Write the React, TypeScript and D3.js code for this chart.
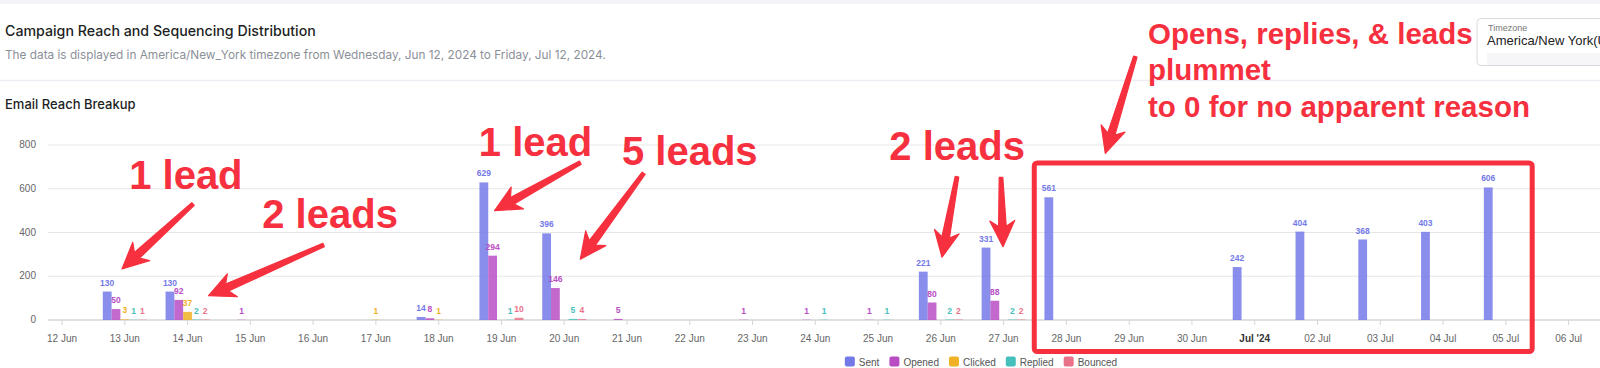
import React from 'react';
import * as d3 from 'd3';

// days with activity (UTC)
const dates = [
	'2024-06-13', '2024-06-14', '2024-06-15', '2024-06-16', '2024-06-17', '2024-06-18',
	'2024-06-19', '2024-06-20', '2024-06-21', '2024-06-22', '2024-06-23', '2024-06-24',
	'2024-06-25', '2024-06-26', '2024-06-27', '2024-06-28', '2024-06-29', '2024-06-30',
	'2024-07-01', '2024-07-02', '2024-07-03', '2024-07-04', '2024-07-05',
];
const sent = [130, 130, 0, 0, 0, 14, 629, 396, 0, 0, 0, 0, 0, 221, 331, 561, 0, 0, 242, 404, 368, 403, 606];
const opened = [50, 92, 1, 0, 0, 8, 294, 146, 5, 0, 1, 1, 1, 80, 88, 0, 0, 0, 0, 0, 0, 0, 0];
const clicked = [3, 37, 0, 0, 1, 1, 0, 0, 0, 0, 0, 0, 0, 0, 0, 0, 0, 0, 0, 0, 0, 0, 0];
const replied = [1, 2, 0, 0, 0, 0, 1, 5, 0, 0, 0, 1, 1, 2, 2, 0, 0, 0, 0, 0, 0, 0, 0];
const bounced = [1, 2, 0, 0, 0, 0, 10, 4, 0, 0, 0, 0, 0, 2, 2, 0, 0, 0, 0, 0, 0, 0, 0];

const seriesNames = ['Sent', 'Opened', 'Clicked', 'Replied', 'Bounced'];
const seriesColors = ['#7479e8', '#b94ec4', '#efb125', '#45c0bc', '#e9718a'];
const yTicks = [0, 200, 400, 600, 800];

// annotations in chart space: day offset from 12 Jun, value on the y axis
const notes = [
	{ text: '1 lead', day: 1.07, v: 599, size: 40 },
	{ text: '2 leads', day: 3.19, v: 419, size: 40 },
	{ text: '1 lead', day: 6.64, v: 751, size: 40 },
	{ text: '5 leads', day: 8.92, v: 709, size: 40 },
	{ text: '2 leads', day: 13.18, v: 731, size: 40 },
	{ text: 'Opens, replies, & leads', day: 17.3, v: 1264, size: 29.5 },
	{ text: 'plummet', day: 17.3, v: 1095, size: 29.5 },
	{ text: 'to 0 for no apparent reason', day: 17.3, v: 926, size: 29.5 },
];
const arrows = [
	{ from: [2.087, 530], to: [0.956, 233] },
	{ from: [4.167, 343], to: [2.335, 111] },
	{ from: [8.257, 719], to: [6.891, 500] },
	{ from: [9.265, 671], to: [8.257, 278] },
	{ from: [14.257, 655], to: [14.018, 287] },
	{ from: [14.958, 652], to: [14.99, 335] },
	{ from: [17.098, 1204], to: [16.62, 762] },
];
const box = { day0: 15.488, day1: 23.42, v0: 718, v1: -144 };

const RED = '#f6303e';
const chartFont = '"Liberation Sans", Arial, sans-serif';
const uiFont = 'Inter, "Noto Sans", sans-serif';

function arrowPath(t: number[], p: number[]) {
	const dx = p[0] - t[0];
	const dy = p[1] - t[1];
	const len = Math.hypot(dx, dy);
	const ux = dx / len, uy = dy / len, nx = -uy, ny = ux;
	const H = 26, W = 12.5, w0 = 1.8, w1 = 3.8;
	const bx = p[0] - ux * H, by = p[1] - uy * H;
	const sx = p[0] - ux * H * 0.78, sy = p[1] - uy * H * 0.78;
	const pts: [number, number][] = [
		[t[0] + nx * w0, t[1] + ny * w0],
		[sx + nx * w1, sy + ny * w1],
		[bx + nx * W, by + ny * W],
		[p[0], p[1]],
		[bx - nx * W, by - ny * W],
		[sx - nx * w1, sy - ny * w1],
		[t[0] - nx * w0, t[1] - ny * w0],
	];
	return d3.line()(pts) + 'Z';
}

function measure(text: string, font: string) {
	const ctx = document.createElement('canvas').getContext('2d');
	if (!ctx) return text.length * 6;
	ctx.font = font;
	return ctx.measureText(text).width;
}

export default function App() {
	const width = 1600;
	const height = 368;
	const plotLeft = 48;

	const start = new Date(Date.UTC(2024, 5, 12));
	const end = new Date(Date.UTC(2024, 6, 12));
	const x = d3.scaleUtc().domain([start, end]).range([62, 62 + 30 * 62.775]);
	const y = d3.scaleLinear().domain([0, 800]).range([320, 145]);
	const dayW = x(d3.utcDay.offset(start, 1)) - x(start);
	const inner = d3
		.scaleBand()
		.domain(seriesNames)
		.range([-0.35 * dayW, 0.35 * dayW]);
	const parse = d3.utcParse('%Y-%m-%d');
	const at = (day: number, v: number) => [x(new Date(start.getTime() + day * 864e5)), y(v)];

	const seriesValues = [sent, opened, clicked, replied, bounced];
	const xTicks = x.ticks(d3.utcDay.every(1)!).filter((d) => x(d) <= width);
	const fmtDay = d3.utcFormat('%d %b');
	const fmtMonth = d3.utcFormat("%b '%y");

	// legend layout
	const legendFont = `10px ${chartFont}`;
	const items = seriesNames.map((n) => 14 + measure(n, legendFont));
	const legendW = d3.sum(items) + 10 * (items.length - 1);
	let lx = 981 - legendW / 2;
	const legendX = items.map((w) => {
		const p = lx;
		lx += w + 10;
		return p;
	});

	const [bx0, by0] = at(box.day0, box.v0);
	const [bx1, by1] = at(box.day1, box.v1);

	return (
		<svg
			width={width}
			height={height}
			style={{ position: 'absolute', left: 0, top: 0, background: '#fff' }}
		>
			{/* page header */}
			<rect x={0} y={0} width={width} height={4} fill='#f3f4f8' />
			<text x={5} y={36} fontFamily={uiFont} fontSize={14.2} fontWeight={500} fill='#1d1f24'>
				Campaign Reach and Sequencing Distribution
			</text>
			<text x={5} y={58.5} fontFamily={uiFont} fontSize={11.8} fill='#8b8f98'>
				The data is displayed in America/New_York timezone from Wednesday, Jun 12, 2024 to Friday, Jul 12, 2024.
			</text>
			<line x1={0} x2={width} y1={80.5} y2={80.5} stroke='#eceef3' strokeWidth={1.5} />
			<text x={5} y={109} fontFamily={uiFont} fontSize={13} fontWeight={500} fill='#1d1f24'>
				Email Reach Breakup
			</text>

			{/* timezone select */}
			<rect x={1477} y={18.5} width={140} height={47} rx={4} fill='#fff' stroke='#d9dadf' />
			<rect x={1487} y={53} width={120} height={12} fill='#f6f6f8' />
			<text x={1488} y={31} fontFamily={chartFont} fontSize={9} fill='#777'>
				Timezone
			</text>
			<text x={1487} y={45} fontFamily={chartFont} fontSize={13} fill='#222'>
				America/New York(UTC-04:00)
			</text>

			{/* grid */}
			{yTicks.map((t) => (
				<g key={t}>
					<line
						x1={plotLeft}
						x2={width}
						y1={y(t)}
						y2={y(t)}
						stroke={t === 0 ? '#d6d6d6' : '#e6e6e6'}
						strokeWidth={t === 0 ? 1.5 : 1}
					/>
					<text
						x={36}
						y={y(t)}
						dy='0.32em'
						textAnchor='end'
						fontFamily={chartFont}
						fontSize={10}
						fill='#666'
					>
						{t}
					</text>
				</g>
			))}

			{/* x axis */}
			{xTicks.map((d) => {
				const isMonth = d3.utcMonth(d).getTime() === d.getTime();
				return (
					<g key={d.toISOString()}>
						<line x1={x(d)} x2={x(d)} y1={y(0)} y2={y(0) + 5} stroke='#d6d6d6' />
						<text
							x={x(d)}
							y={342}
							textAnchor='middle'
							fontFamily={chartFont}
							fontSize={10}
							fontWeight={isMonth ? 'bold' : 'normal'}
							fill={isMonth ? '#333' : '#666'}
						>
							{isMonth ? fmtMonth(d) : fmtDay(d)}
						</text>
					</g>
				);
			})}

			{/* bars + labels */}
			{seriesValues.map((vals, si) =>
				vals.map((v, i) => {
					if (!v) return null;
					const cx = x(parse(dates[i])!) + inner(seriesNames[si])!;
					return (
						<g key={`${si}-${i}`}>
							<rect
								x={cx}
								y={y(v)}
								width={inner.bandwidth()}
								height={y(0) - y(v)}
								fill={seriesColors[si]}
								fillOpacity={0.85}
							/>
							<text
								x={cx + inner.bandwidth() / 2}
								y={y(v) - 6}
								textAnchor='middle'
								fontFamily={chartFont}
								fontSize={8.5}
								fontWeight='bold'
								fill={seriesColors[si]}
							>
								{v}
							</text>
						</g>
					);
				})
			)}

			{/* legend */}
			{seriesNames.map((n, i) => (
				<g key={n}>
					<rect x={legendX[i]} y={356.5} width={10} height={10} rx={2} fill={seriesColors[i]} />
					<text x={legendX[i] + 14} y={365.5} fontFamily={chartFont} fontSize={10} fill='#555'>
						{n}
					</text>
				</g>
			))}

			{/* annotations */}
			<rect
				x={bx0}
				y={by0}
				width={bx1 - bx0}
				height={by1 - by0}
				rx={3}
				fill='none'
				stroke={RED}
				strokeWidth={5}
			/>
			{arrows.map((a, i) => (
				<path
					key={i}
					d={arrowPath(at(a.from[0], a.from[1]), at(a.to[0], a.to[1]))}
					fill={RED}
					stroke={RED}
					strokeWidth={1.2}
					strokeLinejoin='round'
				/>
			))}
			{notes.map((n, i) => {
				const [tx, ty] = at(n.day, n.v);
				return (
					<text
						key={i}
						x={tx}
						y={ty}
						fontFamily={chartFont}
						fontSize={n.size}
						fontWeight='bold'
						fill={RED}
					>
						{n.text}
					</text>
				);
			})}
		</svg>
	);
}
